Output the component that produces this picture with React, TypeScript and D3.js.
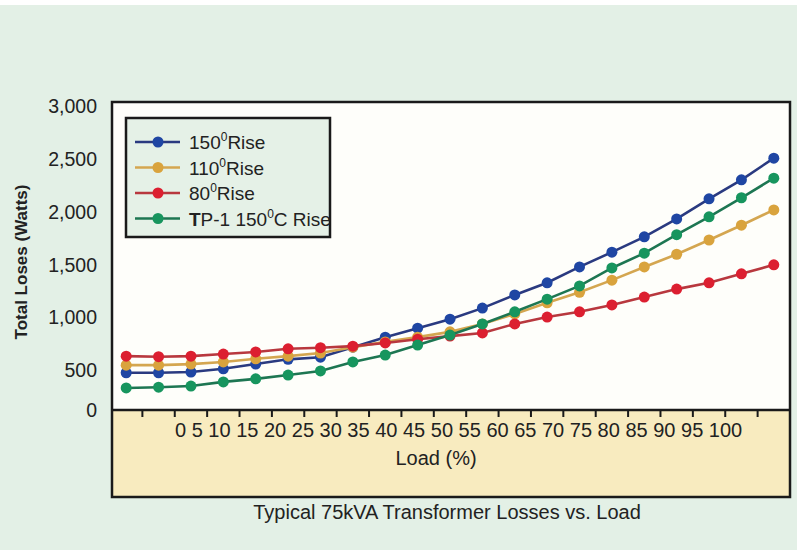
import React from "react";
import * as d3 from "d3";

const loads = [0, 5, 10, 15, 20, 25, 30, 35, 40, 45, 50, 55, 60, 65, 70, 75, 80, 85, 90, 95, 100];
const rise150 = [490, 490, 500, 530, 575, 620, 640, 735, 830, 915, 1000, 1105, 1230, 1345, 1495, 1635, 1780, 1950, 2140, 2320, 2525];
const rise110 = [565, 565, 575, 595, 625, 650, 680, 735, 785, 830, 880, 955, 1050, 1155, 1255, 1370, 1495, 1615, 1750, 1890, 2035];
const rise80 = [650, 645, 650, 670, 690, 720, 730, 745, 775, 810, 840, 870, 955, 1020, 1070, 1135, 1210, 1285, 1345, 1430, 1515];
const tp1 = [290, 300, 315, 370, 410, 460, 510, 595, 660, 755, 850, 955, 1070, 1190, 1315, 1485, 1625, 1800, 1970, 2150, 2335];
const yTicks = [0, 500, 1000, 1500, 2000, 2500, 3000];

const seriesList = [
  { name: "150", suffix: "Rise", bold: "", values: rise150, line: "#2a3a80", dot: "#1f46a3" },
  { name: "110", suffix: "Rise", bold: "", values: rise110, line: "#d4a650", dot: "#d9a33d" },
  { name: "80", suffix: "Rise", bold: "", values: rise80, line: "#b8383e", dot: "#dc1f30" },
  { name: "P-1 150", suffix: "C Rise", bold: "T", values: tp1, line: "#1d7652", dot: "#17955e" },
];

const FONT = "Liberation Sans, Arial, sans-serif";

export default function App() {
  const left = 110, right = 790, top = 102, axisY = 410, bottom = 497;
  const x = d3.scaleBand<number>().domain(loads).range([left, right]).padding(0);
  const y = d3.scaleLinear().domain([0, 500, 3000]).range([axisY, 372, 108]);
  const line = d3
    .line<number>()
    .x((_, i) => (x(loads[i]) as number) + x.bandwidth() / 2)
    .y((v) => y(v));
  const tickXs = loads.slice(1).map((l) => x(l) as number);

  return (
    <svg width={797} height={550} style={{ position: "absolute", left: 0, top: 0 }} fontFamily={FONT}>
      <rect x={0} y={0} width={797} height={550} fill="#ffffff" />
      <rect x={0} y={5} width={797} height={545} fill="#e3f0e6" />
      {/* plot area */}
      <rect x={112} y={top} width={right - 112} height={axisY - top} fill="#fefefa" />
      <rect x={112} y={axisY} width={right - 112} height={bottom - axisY} fill="#f8ebbf" />
      {/* lines */}
      {seriesList.map((s) => (
        <g key={s.name + s.suffix}>
          <path d={line(s.values) || ""} fill="none" stroke={s.line} strokeWidth={2.6} />
          {s.values.map((v, i) => (
            <circle key={i} cx={(x(loads[i]) as number) + x.bandwidth() / 2} cy={y(v)} r={5.5} fill={s.dot} />
          ))}
        </g>
      ))}
      {/* axis line & ticks */}
      <line x1={112} x2={right} y1={axisY} y2={axisY} stroke="#1a1a1a" strokeWidth={2.5} />
      {tickXs.map((tx, i) => (
        <line key={i} x1={tx} x2={tx} y1={axisY} y2={axisY + 7} stroke="#1a1a1a" strokeWidth={2} />
      ))}
      {/* border */}
      <rect x={112} y={top} width={right - 112} height={bottom - top} fill="none" stroke="#1a1a1a" strokeWidth={2.5} />
      {/* y tick labels */}
      {yTicks.map((t) => (
        <text key={t} x={97} y={t === 0 ? y(t) + 2 : y(t)} textAnchor="end" dominantBaseline="middle" fontSize={19.5} fill="#222">
          {d3.format(",")(t)}
        </text>
      ))}
      {/* x tick labels as a single run */}
      <text x={175} y={432} dominantBaseline="middle" fontSize={20} fill="#222">
        {loads.join(" ")}
      </text>
      <text x={436} y={460} textAnchor="middle" dominantBaseline="middle" fontSize={20} fill="#222">
        Load (%)
      </text>
      <text x={447} y={514} textAnchor="middle" dominantBaseline="middle" fontSize={20} fill="#222">
        Typical 75kVA Transformer Losses vs. Load
      </text>
      <text
        transform={`translate(23,262) rotate(-90)`}
        textAnchor="middle"
        dominantBaseline="middle"
        fontSize={17}
        fontWeight="bold"
        fill="#222"
      >
        Total Loses (Watts)
      </text>
      {/* legend */}
      <rect x={126} y={118} width={204} height={119} fill="#e5f1e7" stroke="#1a1a1a" strokeWidth={2.5} />
      {seriesList.map((s, i) => {
        const ly = 142 + i * 25.5;
        return (
          <g key={"lg" + i}>
            <line x1={135} x2={180} y1={ly} y2={ly} stroke={s.line} strokeWidth={2.6} />
            <circle cx={158} cy={ly} r={5.5} fill={s.dot} />
            <text x={189} y={ly + 7} fontSize={19} fill="#222">
              {s.bold ? <tspan fontWeight="bold">{s.bold}</tspan> : null}
              <tspan>{s.name}</tspan>
              <tspan fontSize={12} dy={-8}>0</tspan>
              <tspan dy={8}>{s.suffix}</tspan>
            </text>
          </g>
        );
      })}
    </svg>
  );
}
